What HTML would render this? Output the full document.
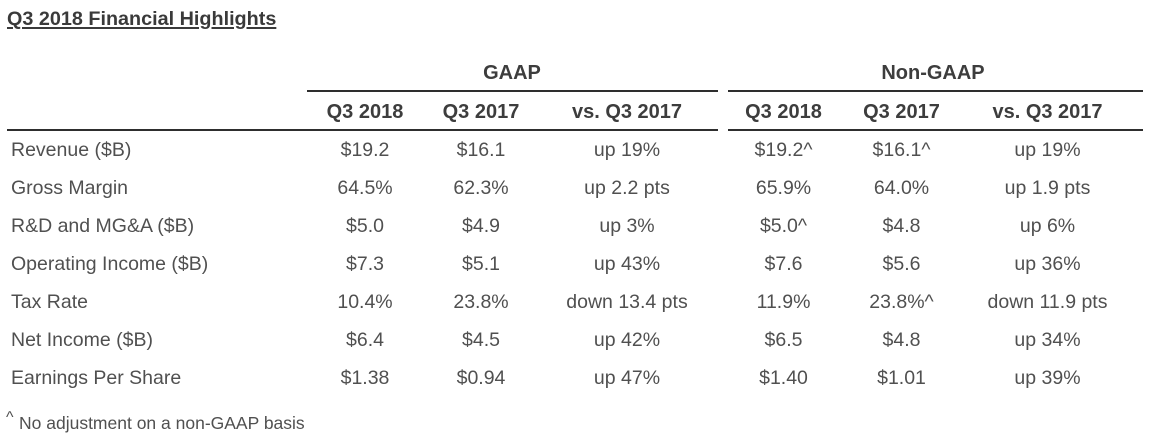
<!DOCTYPE html>
<html>
<head>
<meta charset="utf-8">
<style>
  html, body { margin:0; padding:0; background:#ffffff; }
  body { width:1152px; height:436px; position:relative; overflow:hidden;
         font-family:"Liberation Sans", Arial, sans-serif; }
  .t { position:absolute; white-space:nowrap; }
  .title { left:7px; top:10px; font-size:19.8px; line-height:19.8px; font-weight:bold; color:#3a3a3a;
           text-decoration:underline; text-underline-offset:2px; text-decoration-thickness:1.5px; }
  .grp { font-size:20px; line-height:20px; font-weight:bold; color:#3d3d3d; width:300px; margin-left:-150px; text-align:center; top:63px; }
  .hd { font-size:20px; line-height:20px; font-weight:bold; color:#3d3d3d; width:200px; margin-left:-100px; text-align:center; top:101.6px; }
  .lbl { left:11px; font-size:19.5px; line-height:19.5px; color:#505050; }
  .v { font-size:19.5px; line-height:19.5px; color:#505050; width:200px; margin-left:-100px; text-align:center; }
  .ln { position:absolute; height:2px; background:#2e2e2e; }
  .foot { left:19px; top:414.5px; font-size:17.5px; line-height:17.5px; color:#505050; }
  .caret { left:6px; top:410px; font-size:16px; line-height:16px; color:#505050; }
</style>
</head>
<body>
<div class="t title">Q3 2018 Financial Highlights</div>

<div class="t grp" style="left:512px;">GAAP</div>
<div class="t grp" style="left:933px;">Non-GAAP</div>

<div class="ln" style="left:307px; width:411px; top:90px;"></div>
<div class="ln" style="left:728px; width:415px; top:90px;"></div>

<div class="t hd" style="left:365px;">Q3 2018</div>
<div class="t hd" style="left:481px;">Q3 2017</div>
<div class="t hd" style="left:627px;">vs. Q3 2017</div>
<div class="t hd" style="left:783.5px;">Q3 2018</div>
<div class="t hd" style="left:901.5px;">Q3 2017</div>
<div class="t hd" style="left:1047.5px;">vs. Q3 2017</div>

<div class="ln" style="left:7px; width:711px; top:129px;"></div>
<div class="ln" style="left:728px; width:415px; top:129px;"></div>

<div class="t lbl" style="top:140.8px;">Revenue ($B)</div>
<div class="t v" style="left:365px; top:140.8px;">$19.2</div>
<div class="t v" style="left:481px; top:140.8px;">$16.1</div>
<div class="t v" style="left:627px; top:140.8px;">up 19%</div>
<div class="t v" style="left:783.5px; top:140.8px;">$19.2^</div>
<div class="t v" style="left:901.5px; top:140.8px;">$16.1^</div>
<div class="t v" style="left:1047.5px; top:140.8px;">up 19%</div>

<div class="t lbl" style="top:178.75px;">Gross Margin</div>
<div class="t v" style="left:365px; top:178.75px;">64.5%</div>
<div class="t v" style="left:481px; top:178.75px;">62.3%</div>
<div class="t v" style="left:627px; top:178.75px;">up 2.2 pts</div>
<div class="t v" style="left:783.5px; top:178.75px;">65.9%</div>
<div class="t v" style="left:901.5px; top:178.75px;">64.0%</div>
<div class="t v" style="left:1047.5px; top:178.75px;">up 1.9 pts</div>

<div class="t lbl" style="top:216.7px;">R&amp;D and MG&amp;A ($B)</div>
<div class="t v" style="left:365px; top:216.7px;">$5.0</div>
<div class="t v" style="left:481px; top:216.7px;">$4.9</div>
<div class="t v" style="left:627px; top:216.7px;">up 3%</div>
<div class="t v" style="left:783.5px; top:216.7px;">$5.0^</div>
<div class="t v" style="left:901.5px; top:216.7px;">$4.8</div>
<div class="t v" style="left:1047.5px; top:216.7px;">up 6%</div>

<div class="t lbl" style="top:254.65px;">Operating Income ($B)</div>
<div class="t v" style="left:365px; top:254.65px;">$7.3</div>
<div class="t v" style="left:481px; top:254.65px;">$5.1</div>
<div class="t v" style="left:627px; top:254.65px;">up 43%</div>
<div class="t v" style="left:783.5px; top:254.65px;">$7.6</div>
<div class="t v" style="left:901.5px; top:254.65px;">$5.6</div>
<div class="t v" style="left:1047.5px; top:254.65px;">up 36%</div>

<div class="t lbl" style="top:292.6px;">Tax Rate</div>
<div class="t v" style="left:365px; top:292.6px;">10.4%</div>
<div class="t v" style="left:481px; top:292.6px;">23.8%</div>
<div class="t v" style="left:627px; top:292.6px;">down 13.4 pts</div>
<div class="t v" style="left:783.5px; top:292.6px;">11.9%</div>
<div class="t v" style="left:901.5px; top:292.6px;">23.8%^</div>
<div class="t v" style="left:1047.5px; top:292.6px;">down 11.9 pts</div>

<div class="t lbl" style="top:330.55px;">Net Income ($B)</div>
<div class="t v" style="left:365px; top:330.55px;">$6.4</div>
<div class="t v" style="left:481px; top:330.55px;">$4.5</div>
<div class="t v" style="left:627px; top:330.55px;">up 42%</div>
<div class="t v" style="left:783.5px; top:330.55px;">$6.5</div>
<div class="t v" style="left:901.5px; top:330.55px;">$4.8</div>
<div class="t v" style="left:1047.5px; top:330.55px;">up 34%</div>

<div class="t lbl" style="top:368.5px;">Earnings Per Share</div>
<div class="t v" style="left:365px; top:368.5px;">$1.38</div>
<div class="t v" style="left:481px; top:368.5px;">$0.94</div>
<div class="t v" style="left:627px; top:368.5px;">up 47%</div>
<div class="t v" style="left:783.5px; top:368.5px;">$1.40</div>
<div class="t v" style="left:901.5px; top:368.5px;">$1.01</div>
<div class="t v" style="left:1047.5px; top:368.5px;">up 39%</div>

<div class="t caret">^</div>
<div class="t foot">No adjustment on a non-GAAP basis</div>
</body>
</html>
